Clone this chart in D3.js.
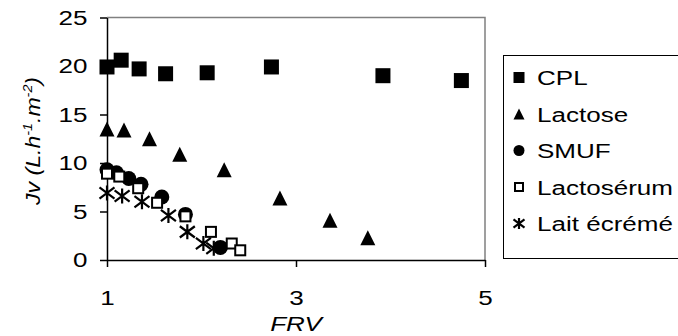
<!DOCTYPE html>
<html>
<head>
<meta charset="utf-8">
<script src="https://cdn.jsdelivr.net/npm/d3@7"></script>
<style>
  html, body { margin: 0; padding: 0; background: #fff; }
  svg { display: block; }
  text { font-family: "Liberation Sans", Arial, sans-serif; fill: #000; }
</style>
</head>
<body>
<div id="chart"></div>
<script>
// Permeate flux Jv versus volume reduction factor (FRV) for five feeds
const seriesNames = ["CPL", "Lactose", "SMUF", "Lactosérum", "Lait écrémé"];

const cplFRV = [1.00, 1.15, 1.34, 1.62, 2.06, 2.74, 3.92, 4.75];
const cplJv  = [19.9, 20.6, 19.7, 19.2, 19.3, 19.9, 19.0, 18.5];

const lactoseFRV = [1.00, 1.18, 1.45, 1.77, 2.24, 2.83, 3.36, 3.76];
const lactoseJv  = [13.5, 13.4, 12.5, 10.9, 9.3, 6.4, 4.1, 2.3];

const smufFRV = [1.00, 1.10, 1.23, 1.36, 1.58, 1.83, 2.20];
const smufJv  = [9.3, 9.0, 8.4, 7.8, 6.5, 4.7, 1.3];

const serumFRV = [1.00, 1.13, 1.33, 1.53, 1.83, 2.10, 2.32, 2.41];
const serumJv  = [8.9, 8.6, 7.4, 5.9, 4.5, 2.9, 1.7, 1.0];

const laitFRV = [1.00, 1.16, 1.37, 1.65, 1.85, 2.02, 2.13];
const laitJv  = [6.9, 6.6, 6.0, 4.6, 2.9, 1.7, 1.2];

const xTicks = [1, 3, 5];
const yTicks = [0, 5, 10, 15, 20, 25];

const W = 678, H = 336;
const SX = 1.24;      // horizontal stretch of the lettering
const FS = 21;        // font size

const svg = d3.select("#chart").append("svg")
  .attr("width", W).attr("height", H);

const x = d3.scaleLinear().domain([1, 5]).range([107, 485]);
const y = d3.scaleLinear().domain([0, 25]).range([260, 17.5]);

// plot-area frame (top and right edges)
svg.append("path")
  .attr("d", `M${x(1)},${y(25)}H${x(5)}V${y(0)}`)
  .attr("fill", "none").attr("stroke", "#808080").attr("stroke-width", 1.5);

// axes
const gx = svg.append("g").attr("transform", `translate(0,${y(0)})`)
  .call(d3.axisBottom(x).tickValues(xTicks).tickSize(7).tickPadding(23).tickSizeOuter(0).tickFormat(d3.format("d")));
const gy = svg.append("g").attr("transform", `translate(${x(1)},0)`)
  .call(d3.axisLeft(y).tickValues(yTicks).tickSize(7).tickPadding(12.5).tickSizeOuter(0).tickFormat(d3.format("d")));

[gx, gy].forEach(g => {
  g.select(".domain").attr("stroke", "#000").attr("stroke-width", 1.5);
  g.selectAll(".tick line").attr("stroke", "#000").attr("stroke-width", 1.5);
  g.selectAll(".tick text")
    .attr("font-size", FS).attr("font-family", "Liberation Sans, Arial, sans-serif").attr("fill", "#000");
});
gy.selectAll(".tick text").each(function() {
  const t = d3.select(this);
  const xx = +t.attr("x");
  t.attr("x", xx / SX).attr("transform", `scale(${SX},1)`);
});
gx.selectAll(".tick text").attr("transform", `scale(${SX},1)`);

// axis titles
svg.append("g").attr("transform", `translate(${x(3)},331) scale(${SX},1)`)
  .append("text").attr("text-anchor", "middle").attr("font-size", FS)
  .attr("font-style", "italic").text("FRV");

const yt = svg.append("g").attr("transform", `translate(40,141) rotate(-90) scale(1.1,1)`)
  .append("text").attr("text-anchor", "middle").attr("font-size", FS).attr("font-style", "italic");
yt.append("tspan").text("Jv (L.h");
yt.append("tspan").attr("dy", -8).attr("font-size", 13).text("-1");
yt.append("tspan").attr("dy", 8).text(".m");
yt.append("tspan").attr("dy", -8).attr("font-size", 13).text("-2");
yt.append("tspan").attr("dy", 8).text(")");

// marker drawing helpers
function drawMarker(g, type, s) {
  const h = s / 2;
  if (type === "square") {
    g.append("rect").attr("x", -h).attr("y", -h).attr("width", s).attr("height", s).attr("fill", "#000");
  } else if (type === "triangle") {
    g.append("path").attr("d", `M0,${-h}L${h},${h}L${-h},${h}Z`).attr("fill", "#000");
  } else if (type === "circle") {
    g.append("circle").attr("r", h).attr("fill", "#000");
  } else if (type === "open") {
    g.append("rect").attr("x", -h + 1).attr("y", -h + 1).attr("width", s - 2).attr("height", s - 2)
      .attr("fill", "#fff").attr("stroke", "#000").attr("stroke-width", 2);
  } else if (type === "star") {
    const a = h, b = h * 0.75;
    g.append("path")
      .attr("d", `M0,${-h}V${h}M${-a},${-b}L${a},${b}M${-a},${b}L${a},${-b}`)
      .attr("stroke", "#000").attr("stroke-width", 2.2).attr("fill", "none");
  }
}

const series = [
  { name: seriesNames[0], xs: cplFRV, ys: cplJv, type: "square", size: 15, leg: 11 },
  { name: seriesNames[1], xs: lactoseFRV, ys: lactoseJv, type: "triangle", size: 15, leg: 11 },
  { name: seriesNames[2], xs: smufFRV, ys: smufJv, type: "circle", size: 15, leg: 11 },
  { name: seriesNames[3], xs: serumFRV, ys: serumJv, type: "open", size: 12, leg: 10 },
  { name: seriesNames[4], xs: laitFRV, ys: laitJv, type: "star", size: 15, leg: 11 }
];

series.forEach(s => {
  const pts = s.xs.map((v, i) => [v, s.ys[i]]);
  svg.append("g").selectAll("g").data(pts).join("g")
    .attr("transform", d => `translate(${x(d[0])},${y(d[1])})`)
    .each(function() { drawMarker(d3.select(this), s.type, s.size); });
});

// legend
const leg = svg.append("g");
leg.append("rect").attr("x", 503.5).attr("y", 55.5).attr("width", 200).attr("height", 203)
  .attr("fill", "#fff").attr("stroke", "#000").attr("stroke-width", 1);
const rowY = d3.scalePoint().domain(seriesNames).range([77.5, 223.5]);
series.forEach(s => {
  const cy = rowY(s.name);
  const m = leg.append("g").attr("transform", `translate(519,${cy})`);
  drawMarker(m, s.type, s.leg);
  leg.append("g").attr("transform", `translate(537,${cy + 7.5}) scale(${SX},1)`)
    .append("text").attr("font-size", FS).text(s.name);
});
</script>
</body>
</html>
